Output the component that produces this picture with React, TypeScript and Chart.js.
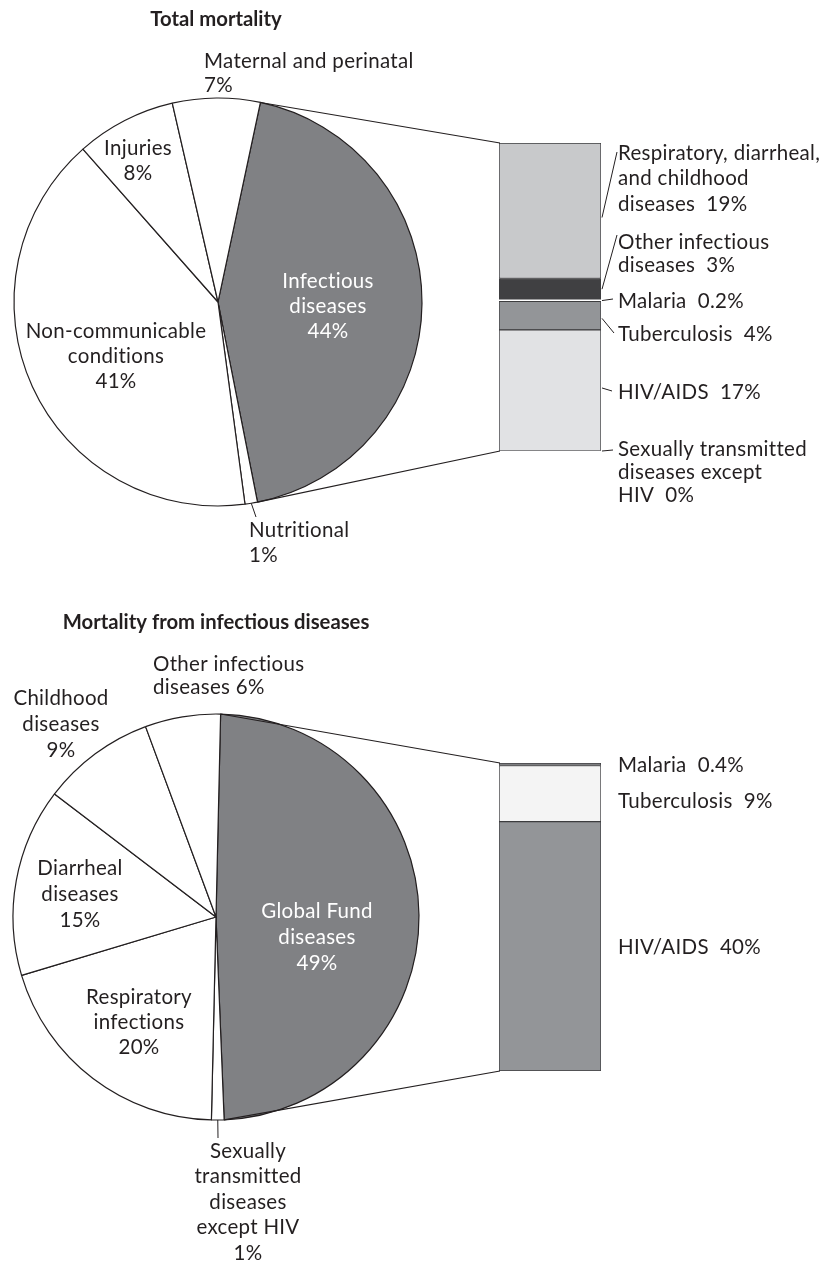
import React, { useEffect, useRef } from "react";
import { Chart, registerables } from "chart.js";
Chart.register(...registerables);

// ---------- DATA ----------
const topPieLabels = ["Infectious diseases", "Nutritional", "Non-communicable conditions", "Injuries", "Maternal and perinatal"];
const topPieValues = [44, 1, 41, 8, 7];
const topBarLabels = ["Sexually transmitted diseases except HIV", "HIV/AIDS", "Tuberculosis", "Malaria", "Other infectious diseases", "Respiratory, diarrheal, and childhood diseases"];
const topBarValues = [0, 17, 4, 0.2, 3, 19];

const bottomPieLabels = ["Global Fund diseases", "Sexually transmitted diseases except HIV", "Respiratory infections", "Diarrheal diseases", "Childhood diseases", "Other infectious diseases"];
const bottomPieValues = [49, 1, 20, 15, 9, 6];
const bottomBarLabels = ["HIV/AIDS", "Tuberculosis", "Malaria"];
const bottomBarValues = [40, 9, 0.4];

// ---------- STYLE ----------
const FONT = '"Lato", "Open Sans", sans-serif';
const TEXT = "#231f20";
const PIE_GRAY = "#808184";

type Leader = { index: number; frac?: number; to: [number, number] };
type TextLabel = { lines: string[]; x: number; y: number; lh: number; align: CanvasTextAlign; color?: string; leader?: Leader };

type PanelSpec = {
  height: number;
  title: string;
  titleX: number;
  titleY: number;
  pieLabels: string[];
  pieValues: number[];
  pieColors: string[];
  rotation: number;
  radius: number;
  piePad: { left: number; right: number; top: number; bottom: number };
  pieText: TextLabel[];
  barLabels: string[];
  barValues: number[];
  barColors: string[];
  barBorders: number[];
  barPad: { left: number; right: number; top: number; bottom: number };
  barText: TextLabel[];
  connectIndex: number;
};

function drawLines(ctx: CanvasRenderingContext2D, l: TextLabel) {
  ctx.save();
  ctx.font = `20.5px ${FONT}`;
  (ctx as any).letterSpacing = "0.3px";
  ctx.fillStyle = l.color || TEXT;
  ctx.textAlign = l.align;
  ctx.textBaseline = "middle";
  l.lines.forEach((s, i) => ctx.fillText(s, l.x, l.y + i * l.lh));
  ctx.restore();
}

const topSpec: PanelSpec = {
  height: 590,
  title: "Total mortality",
  titleX: 216,
  titleY: 19,
  pieLabels: topPieLabels,
  pieValues: topPieValues,
  pieColors: [PIE_GRAY, "#ffffff", "#ffffff", "#ffffff", "#ffffff"],
  rotation: 12,
  radius: 204,
  piePad: { left: 14, right: 402, top: 98, bottom: 84 },
  pieText: [
    { lines: ["Maternal and perinatal", "7%"], x: 204, y: 61, lh: 24, align: "left" },
    { lines: ["Injuries", "8%"], x: 138, y: 148, lh: 25, align: "center" },
    { lines: ["Infectious", "diseases", "44%"], x: 328, y: 281, lh: 25, align: "center", color: "#ffffff" },
    { lines: ["Non-communicable", "conditions", "41%"], x: 116, y: 331, lh: 25, align: "center" },
    { lines: ["Nutritional", "1%"], x: 249, y: 530, lh: 25, align: "left", leader: { index: 1, to: [256, 517] } },
  ],
  barLabels: topBarLabels,
  barValues: topBarValues,
  barColors: ["#e1e2e4", "#e1e2e4", "#939598", "#ffffff", "#404042", "#c8c9cb"],
  barBorders: [0, 1, 1, 0, 1, 1],
  barPad: { left: 499, right: 223, top: 143, bottom: 139 },
  barText: [
    { lines: ["Respiratory, diarrheal,", "and childhood", "diseases  19%"], x: 618, y: 153, lh: 25.5, align: "left", leader: { index: 5, frac: 0.55, to: [617, 152] } },
    { lines: ["Other infectious", "diseases  3%"], x: 618, y: 242, lh: 23, align: "left", leader: { index: 4, frac: 0.5, to: [617, 235] } },
    { lines: ["Malaria  0.2%"], x: 618, y: 301, lh: 24, align: "left", leader: { index: 3, frac: 0.5, to: [613, 299] } },
    { lines: ["Tuberculosis  4%"], x: 618, y: 334, lh: 24, align: "left", leader: { index: 2, frac: 0.6, to: [614, 333] } },
    { lines: ["HIV/AIDS  17%"], x: 618, y: 392, lh: 24, align: "left", leader: { index: 1, frac: 0.48, to: [612, 391] } },
    { lines: ["Sexually transmitted", "diseases except", "HIV  0%"], x: 618, y: 449, lh: 23, align: "left", leader: { index: 0, frac: 0.5, to: [613, 450] } },
  ],
  connectIndex: 0,
};

const bottomSpec: PanelSpec = {
  height: 674,
  title: "Mortality from infectious diseases",
  titleX: 216,
  titleY: 32,
  pieLabels: bottomPieLabels,
  pieValues: bottomPieValues,
  pieColors: [PIE_GRAY, "#ffffff", "#ffffff", "#ffffff", "#ffffff", "#ffffff"],
  rotation: 1.3,
  radius: 203,
  piePad: { left: 13, right: 405, top: 124, bottom: 144 },
  pieText: [
    { lines: ["Other infectious", "diseases 6%"], x: 153, y: 74, lh: 23, align: "left" },
    { lines: ["Childhood", "diseases", "9%"], x: 61, y: 108, lh: 26, align: "center" },
    { lines: ["Diarrheal", "diseases", "15%"], x: 80, y: 278, lh: 26, align: "center" },
    { lines: ["Respiratory", "infections", "20%"], x: 139, y: 407, lh: 25, align: "center" },
    { lines: ["Global Fund", "diseases", "49%"], x: 317, y: 321, lh: 26, align: "center", color: "#ffffff" },
    { lines: ["Sexually", "transmitted", "diseases", "except HIV", "1%"], x: 248, y: 561, lh: 25.5, align: "center", leader: { index: 1, to: [218, 548] } },
  ],
  barLabels: bottomBarLabels,
  barValues: bottomBarValues,
  barColors: ["#939598", "#f4f4f4", "#939598"],
  barBorders: [1, 1, 1],
  barPad: { left: 499, right: 223, top: 173, bottom: 193 },
  barText: [
    { lines: ["Malaria  0.4%"], x: 618, y: 175, lh: 24, align: "left" },
    { lines: ["Tuberculosis  9%"], x: 618, y: 211, lh: 24, align: "left" },
    { lines: ["HIV/AIDS  40%"], x: 618, y: 357, lh: 24, align: "left" },
  ],
  connectIndex: 0,
};

function Panel({ spec }: { spec: PanelSpec }) {
  const pieRef = useRef<HTMLCanvasElement>(null);
  const barRef = useRef<HTMLCanvasElement>(null);

  useEffect(() => {
    if (!pieRef.current || !barRef.current) return;
    const pieText = {
      id: "pieText",
      afterDraw(chart: any) {
        const ctx = chart.ctx as CanvasRenderingContext2D;
        ctx.save();
        ctx.font = `bold 20.3px ${FONT}`;
        ctx.fillStyle = TEXT;
        ctx.textAlign = "center";
        ctx.textBaseline = "middle";
        ctx.fillText(spec.title, spec.titleX, spec.titleY);
        ctx.restore();
        const arcs = chart.getDatasetMeta(0).data as any[];
        spec.pieText.forEach((l) => {
          if (l.leader) {
            const a = arcs[l.leader.index];
            const mid = (a.startAngle + a.endAngle) / 2;
            const r = a.outerRadius;
            ctx.save();
            ctx.strokeStyle = TEXT;
            ctx.lineWidth = 1;
            ctx.beginPath();
            ctx.moveTo(a.x + r * Math.cos(mid), a.y + r * Math.sin(mid));
            ctx.lineTo(l.leader.to[0], l.leader.to[1]);
            ctx.stroke();
            ctx.restore();
          }
          drawLines(ctx, l);
        });
      },
    };

    const pie = new Chart(pieRef.current, {
      type: "pie",
      data: {
        labels: spec.pieLabels,
        datasets: [
          {
            data: spec.pieValues,
            backgroundColor: spec.pieColors,
            borderColor: TEXT,
            borderWidth: 1.2,
          },
        ],
      },
      options: {
        responsive: false,
        animation: false,
        events: [],
        rotation: spec.rotation,
        radius: spec.radius,
        layout: { padding: spec.piePad },
        plugins: { legend: { display: false }, tooltip: { enabled: false } },
      } as any,
      plugins: [pieText],
    });

    const barSum = spec.barValues.reduce((a, b) => a + b, 0);
    const barText = {
      id: "barText",
      afterDraw(chart: any) {
        const ctx = chart.ctx as CanvasRenderingContext2D;
        const arc = pie.getDatasetMeta(0).data[spec.connectIndex] as any;
        const r = arc.outerRadius;
        const { left, bottom, top } = chart.chartArea;
        ctx.save();
        ctx.strokeStyle = TEXT;
        ctx.lineWidth = 1.1;
        ctx.beginPath();
        ctx.moveTo(arc.x + r * Math.cos(arc.startAngle), arc.y + r * Math.sin(arc.startAngle));
        ctx.lineTo(left + 1, top);
        ctx.moveTo(arc.x + r * Math.cos(arc.endAngle), arc.y + r * Math.sin(arc.endAngle));
        ctx.lineTo(left + 1, bottom);
        ctx.stroke();
        ctx.restore();
        spec.barText.forEach((l) => {
          if (l.leader) {
            const el = chart.getDatasetMeta(l.leader.index).data[0] as any;
            const right = el.x + el.width / 2 + 1;
            const t = Math.min(el.y, el.base);
            const b = Math.max(el.y, el.base);
            const sy = t + (l.leader.frac ?? 0.5) * (b - t);
            ctx.save();
            ctx.strokeStyle = TEXT;
            ctx.lineWidth = 1;
            ctx.beginPath();
            ctx.moveTo(right, sy);
            ctx.lineTo(l.leader.to[0], l.leader.to[1]);
            ctx.stroke();
            ctx.restore();
          }
          drawLines(ctx, l);
        });
      },
    };

    const bar = new Chart(barRef.current, {
      type: "bar",
      data: {
        labels: [""],
        datasets: spec.barValues.map((v, i) => ({
          label: spec.barLabels[i],
          data: [v],
          backgroundColor: spec.barColors[i],
          borderColor: "#3d3d3f",
          borderWidth: spec.barBorders[i],
          borderSkipped: false,
          barPercentage: 1,
          categoryPercentage: 1,
        })),
      },
      options: {
        responsive: false,
        animation: false,
        events: [],
        layout: { padding: spec.barPad },
        scales: {
          x: { display: false, stacked: true },
          y: { display: false, stacked: true, min: 0, max: barSum },
        },
        plugins: { legend: { display: false }, tooltip: { enabled: false } },
      },
      plugins: [barText],
    });

    return () => {
      bar.destroy();
      pie.destroy();
    };
  }, [spec]);

  const cs: React.CSSProperties = { position: "absolute", left: 0, top: 0 };
  return (
    <div style={{ position: "relative", width: 824, height: spec.height }}>
      <canvas ref={pieRef} width={824} height={spec.height} style={cs} />
      <canvas ref={barRef} width={824} height={spec.height} style={cs} />
    </div>
  );
}

export default function App() {
  return (
    <div style={{ position: "absolute", left: 0, top: 0, width: 824, height: 1264, background: "#ffffff" }}>
      <Panel spec={topSpec} />
      <Panel spec={bottomSpec} />
    </div>
  );
}
